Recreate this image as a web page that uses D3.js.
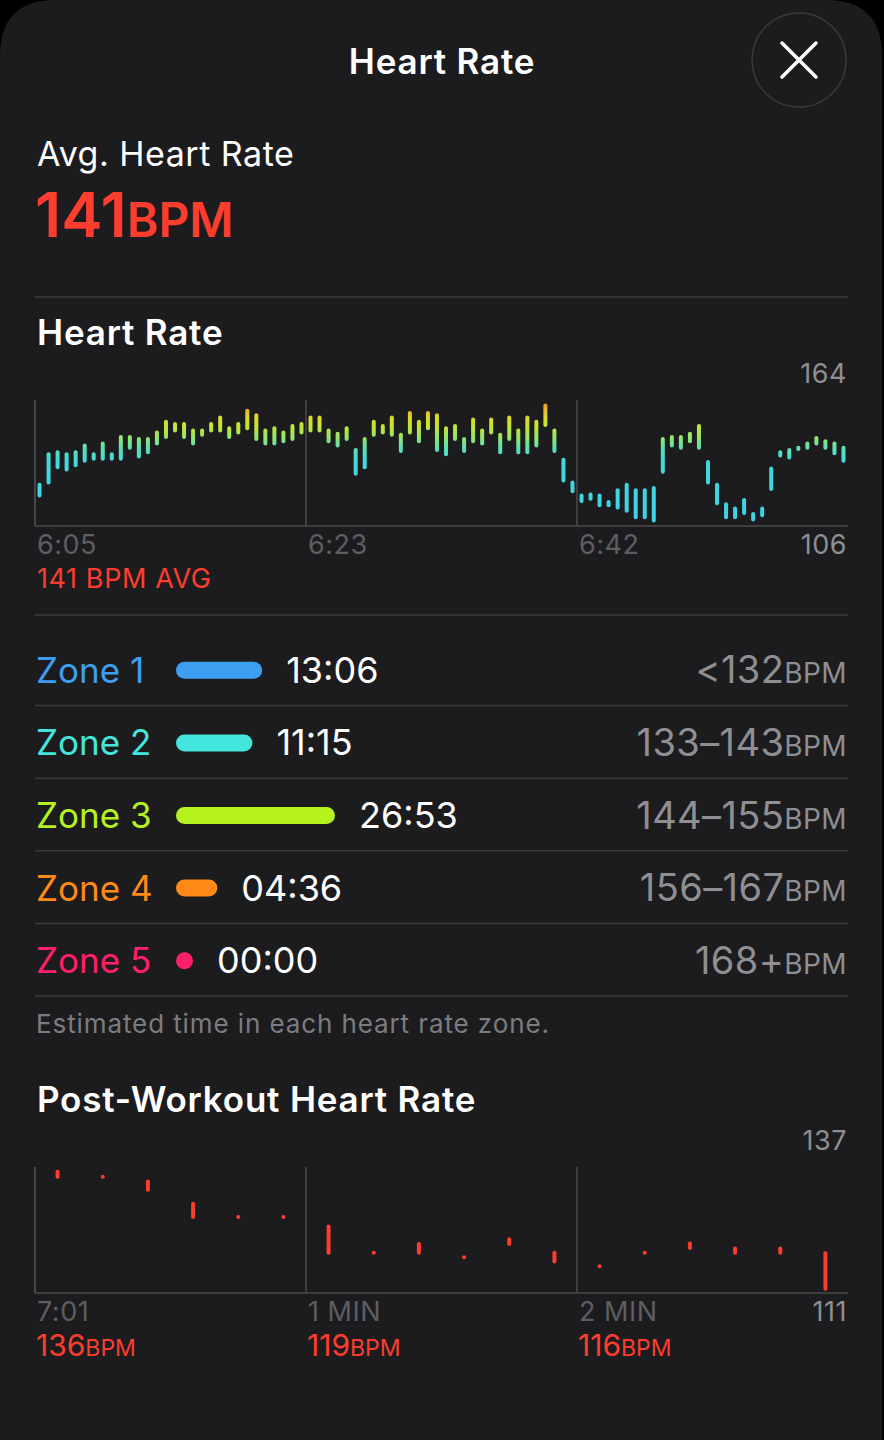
<!DOCTYPE html>
<html>
<head>
<meta charset="utf-8">
<script src="https://cdn.jsdelivr.net/npm/d3@7"></script>
<style>
  html, body { margin: 0; padding: 0; background: #000; }
  svg { display: block; font-family: Inter, "Noto Sans", sans-serif; }
</style>
</head>
<body>
<div id="screen"></div>
<script>
// heart rate during workout: one min/max range per slot
const hrLow = [120,126,133,132,134,136,137,137,137,137,142,138,140,144,147,150,147,144,148,150,
  150,147,149,151,146,144,144,145,146,149,150,150,145,143,146,130,133,148,149,148,
  140.5,149,145,151,141,139,146,140.5,145,144,149,140,146,140,140,143,152.5,140.5,127,122,
  117.5,118.5,115.5,115.5,114.5,113,110,110,108.5,131,143,142,145,142,126,116.5,110,110,112,109,
  111,123,138.5,137.5,141.5,142,144,142,139.5,136];
const hrHigh = [125,139,140,139,140,143,139,144,139,147,147,146,146,149,154,153,153,150,150,153,
  156,151,153,159,157,150,151,149,152,153,156,156,150,148.5,151,141,146,154,152,156,
  148,158,154,158,157,151,152,146,155,150,155,148,156,150,156,154,161.5,150,136.5,126,
  120,120.5,120,117,122.5,125,122.5,122.5,123.5,146,147,147,148.5,152,135.5,125,116,114,118,111.5,
  114,132.5,140,141,142,144,146.5,145,144,142];
const hrTicks = ["6:05", "6:23", "6:42"];
const hrTickIndex = [0, 30, 60];
const hrRange = [106, 164];

// post-workout recovery
const postLow = [135,135,132.3,126.7,126.7,126.7,119.3,119.3,119.3,118.4,121.1,117.5,116.5,119.3,120.3,119.3,119.3,111.9];
const postHigh = [136,135,134,129.4,126.7,126.7,124.7,119.3,121.1,118.4,122.1,119.3,116.5,119.3,121.2,120.2,120.2,119.2];
const postTicks = ["7:01", "1 MIN", "2 MIN"];
const postTickIndex = [0, 6, 12];
const postBpm = [136, 119, 116];
const postRange = [111, 137];

// zones
const zoneNames = ["Zone 1", "Zone 2", "Zone 3", "Zone 4", "Zone 5"];
const zoneTimes = ["13:06", "11:15", "26:53", "04:36", "00:00"];
const zoneRanges = ["<132", "133–143", "144–155", "156–167", "168+"];
const zoneColors = ["#3e9ef2", "#43e5dc", "#b6f21e", "#ff8a16", "#ff1f6b"];

const W = 884, H = 1440;
const left = 35, right = 848;
const red = "#fd3d2e";
const gray = "#8e8e93";
const dim = "#5d5d62";
const line = "#3a3a3c";

const svg = d3.select("#screen").append("svg")
  .attr("width", W)
  .attr("height", H);

const defs = svg.append("defs");

// sheet with rounded top corners
const r = 56;
svg.append("path")
  .attr("d", `M0,${H} L0,${r} Q0,0 ${r},0 L${W - 2 - r},0 Q${W - 2},0 ${W - 2},${r} L${W - 2},${H} Z`)
  .attr("fill", "#1c1c1e");

// header
svg.append("text")
  .attr("x", 442).attr("y", 74)
  .attr("text-anchor", "middle")
  .attr("fill", "#fff")
  .attr("font-size", 35).attr("font-weight", 600)
  .attr("letter-spacing", 0.8)
  .text("Heart Rate");

const close = svg.append("g").attr("transform", "translate(799,60)");
close.append("circle").attr("r", 47)
  .attr("fill", "#1c1c1e")
  .attr("stroke", "#3a3a3c").attr("stroke-width", 1.5);
close.append("path")
  .attr("d", "M-17,-17 L17,17 M17,-17 L-17,17")
  .attr("stroke", "#fff").attr("stroke-width", 3.5)
  .attr("stroke-linecap", "round");

svg.append("text")
  .attr("x", 37).attr("y", 166)
  .attr("fill", "#fff").attr("font-size", 34)
  .attr("letter-spacing", 0.5)
  .text("Avg. Heart Rate");

const avg = svg.append("text")
  .attr("x", 35).attr("y", 237)
  .attr("fill", red).attr("font-weight", 600);
avg.append("tspan").attr("font-size", 62).text("141");
avg.append("tspan").attr("font-size", 48).text("BPM");

function hline(y) {
  svg.append("line")
    .attr("x1", left).attr("x2", right)
    .attr("y1", y).attr("y2", y)
    .attr("stroke", line).attr("stroke-width", 1.5);
}

hline(297);

function sectionTitle(text, y) {
  svg.append("text")
    .attr("x", 37).attr("y", y)
    .attr("fill", "#fff")
    .attr("font-size", 35).attr("font-weight", 600)
    .attr("letter-spacing", 0.8)
    .text(text);
}

// range chart: one rounded bar per slot, from low to high
function rangeChart(opts) {
  const g = svg.append("g");
  const n = opts.low.length;
  const x = d3.scaleBand().domain(d3.range(n)).range([left, right]);
  const y = d3.scaleLinear().domain(opts.domain).range([opts.bottom, opts.top]);

  g.append("line")
    .attr("x1", left).attr("x2", right)
    .attr("y1", opts.bottom).attr("y2", opts.bottom)
    .attr("stroke", "#4a4a4e").attr("stroke-width", 1.5);

  g.selectAll(".grid")
    .data(opts.tickIndex)
    .enter().append("line")
    .attr("class", "grid")
    .attr("x1", d => x(d)).attr("x2", d => x(d))
    .attr("y1", opts.top).attr("y2", opts.bottom)
    .attr("stroke", "#4a4a4e").attr("stroke-width", 1.5);

  g.selectAll(".tick-label")
    .data(opts.ticks)
    .enter().append("text")
    .attr("class", "tick-label")
    .attr("x", (d, i) => x(opts.tickIndex[i]) + 2)
    .attr("y", opts.bottom + 28)
    .attr("fill", dim).attr("font-size", 27)
    .attr("letter-spacing", 0.5)
    .text(d => d);

  g.append("text")
    .attr("x", 847).attr("y", opts.top - 17)
    .attr("text-anchor", "end")
    .attr("fill", gray).attr("font-size", 27)
    .attr("letter-spacing", 0.5)
    .text(opts.domain[1]);

  g.append("text")
    .attr("x", 847).attr("y", opts.bottom + 28)
    .attr("text-anchor", "end")
    .attr("fill", gray).attr("font-size", 27)
    .attr("letter-spacing", 0.5)
    .text(opts.domain[0]);

  const bw = 4;
  g.selectAll(".bar")
    .data(d3.range(n))
    .enter().append("rect")
    .attr("class", "bar")
    .attr("x", i => x(i) + x.bandwidth() / 2 - bw / 2)
    .attr("y", i => y(opts.high[i]) - bw / 2)
    .attr("width", bw)
    .attr("height", i => y(opts.low[i]) - y(opts.high[i]) + bw)
    .attr("rx", bw / 2)
    .attr("fill", opts.fill);

  return { x, y };
}

// heart rate section
sectionTitle("Heart Rate", 345);

const hrY = d3.scaleLinear().domain(hrRange).range([526, 400]);
const grad = defs.append("linearGradient")
  .attr("id", "hrGrad")
  .attr("gradientUnits", "userSpaceOnUse")
  .attr("x1", 0).attr("x2", 0)
  .attr("y1", hrY(hrRange[1])).attr("y2", hrY(hrRange[0]));
const gradStops = [
  [164, "#f08a2a"], [160, "#eeb02c"], [156, "#dcd82c"], [152, "#c4e632"],
  [147, "#96e664"], [142, "#5fe0b4"], [136, "#42d8dc"], [106, "#3cd2e6"]
];
grad.selectAll("stop")
  .data(gradStops)
  .enter().append("stop")
  .attr("offset", d => (hrY(d[0]) - hrY(hrRange[1])) / (hrY(hrRange[0]) - hrY(hrRange[1])))
  .attr("stop-color", d => d[1]);

rangeChart({
  low: hrLow, high: hrHigh, domain: hrRange,
  top: 400, bottom: 526,
  ticks: hrTicks, tickIndex: hrTickIndex,
  fill: "url(#hrGrad)"
});

svg.append("line")
  .attr("x1", left).attr("x2", left)
  .attr("y1", 400).attr("y2", 526)
  .attr("stroke", "#4a4a4e").attr("stroke-width", 1.5);

svg.append("text")
  .attr("x", 37).attr("y", 588)
  .attr("fill", red).attr("font-size", 27)
  .attr("letter-spacing", 0.6)
  .text("141 BPM AVG");

hline(615);

// zones
const rowTop = 634, rowH = 72.6;
const zoneSecs = zoneTimes.map(t => {
  const p = t.split(":");
  return +p[0] * 60 + +p[1];
});
const pill = d3.scaleLinear()
  .domain([0, d3.max(zoneSecs)])
  .range([0, 142]);
const pillH = 17;

zoneNames.forEach((name, i) => {
  const cy = rowTop + rowH * i + rowH / 2;
  svg.append("text")
    .attr("x", 36).attr("y", cy + 12.5)
    .attr("fill", zoneColors[i]).attr("font-size", 35)
    .text(name);

  const len = pillH + pill(zoneSecs[i]);
  svg.append("rect")
    .attr("x", 176).attr("y", cy - pillH / 2)
    .attr("width", len).attr("height", pillH)
    .attr("rx", pillH / 2)
    .attr("fill", zoneColors[i]);

  svg.append("text")
    .attr("x", 176 + len + 24).attr("y", cy + 12.5)
    .attr("fill", "#fff").attr("font-size", 36)
    .text(zoneTimes[i]);

  const rt = svg.append("text")
    .attr("x", 847).attr("y", cy + 13)
    .attr("text-anchor", "end")
    .attr("fill", gray)
    .attr("letter-spacing", 0.4);
  rt.append("tspan").attr("font-size", 38).text(zoneRanges[i]);
  rt.append("tspan").attr("font-size", 28).text("BPM");

  hline(rowTop + rowH * (i + 1) - 1);
});

svg.append("text")
  .attr("x", 36).attr("y", 1033)
  .attr("fill", "#7c7c80").attr("font-size", 26)
  .attr("letter-spacing", 0.9)
  .text("Estimated time in each heart rate zone.");

// post-workout section
sectionTitle("Post-Workout Heart Rate", 1112);

const post = rangeChart({
  low: postLow, high: postHigh, domain: postRange,
  top: 1167, bottom: 1293,
  ticks: postTicks, tickIndex: postTickIndex,
  fill: red
});

svg.append("line")
  .attr("x1", left).attr("x2", left)
  .attr("y1", 1167).attr("y2", 1293)
  .attr("stroke", "#4a4a4e").attr("stroke-width", 1.5);

postBpm.forEach((v, i) => {
  const t = svg.append("text")
    .attr("x", post.x(postTickIndex[i]) + 1)
    .attr("y", 1356)
    .attr("fill", red);
  t.append("tspan").attr("font-size", 30).text(v);
  t.append("tspan").attr("font-size", 23).text("BPM");
});
</script>
</body>
</html>
